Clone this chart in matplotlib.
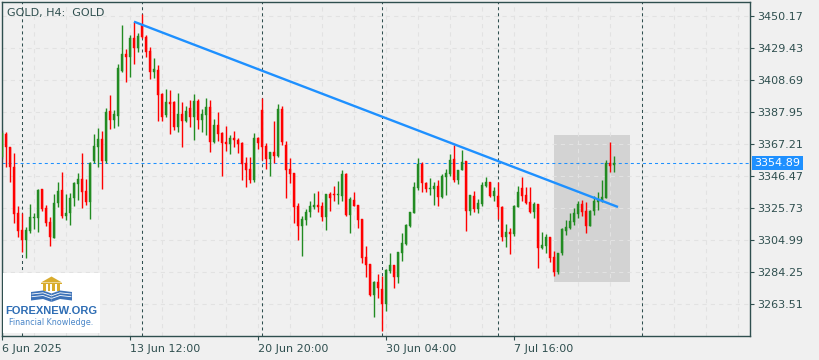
import matplotlib
matplotlib.use('Agg')
import matplotlib.pyplot as plt
from matplotlib.patches import Rectangle, Polygon

# GOLD H4 candles (one value per bar)
opens = [3358.6, 3373.5, 3364.9, 3352.3, 3322.1, 3311.3, 3304.8, 3310.9, 3319.3, 3319.3,
         3337.9, 3325.8, 3316.5, 3306.3, 3328.6, 3337.2, 3320.4, 3322.1, 3331.8, 3341.1,
         3344.1, 3336.6, 3329.7, 3356.2, 3365.3, 3370.3, 3356.2, 3388.4, 3382.8, 3385.4,
         3414.3, 3425.1, 3423.6, 3435.9, 3429.5, 3444.2, 3436.6, 3427.3, 3413.5, 3415.0,
         3399.4, 3385.8, 3394.0, 3394.0, 3378.3, 3386.4, 3381.9, 3390.2, 3384.7, 3394.9,
         3382.8, 3385.8, 3391.2, 3368.5, 3379.3, 3374.4, 3368.5, 3367.0, 3370.7, 3369.6,
         3367.9, 3354.5, 3350.8, 3343.7, 3370.7, 3389.1, 3365.7, 3357.3, 3362.1, 3359.3,
         3389.7, 3366.4, 3350.8, 3348.4, 3326.8, 3314.1, 3317.8, 3323.2, 3326.4, 3327.5,
         3326.8, 3319.9, 3334.6, 3334.0, 3333.8, 3333.3, 3347.6, 3321.0, 3330.7, 3327.5,
         3318.4, 3293.6, 3289.2, 3269.2, 3277.4, 3273.1, 3263.3, 3284.7, 3288.6, 3281.0,
         3296.6, 3302.2, 3313.9, 3322.5, 3338.3, 3354.1, 3341.5, 3337.6, 3337.9, 3339.8,
         3332.9, 3345.9, 3347.6, 3357.1, 3343.7, 3350.2, 3356.0, 3323.8, 3333.3, 3324.9,
         3328.1, 3339.8, 3342.6, 3333.5, 3333.5, 3326.4, 3306.5, 3310.2, 3308.7, 3326.4,
         3338.3, 3334.0, 3329.2, 3323.2, 3328.1, 3299.9, 3301.1, 3306.5, 3294.0, 3284.3,
         3296.2, 3310.9, 3312.4, 3316.7, 3321.7, 3328.1, 3323.6, 3314.1, 3323.6, 3329.7,
         3330.3, 3331.8, 3354.5, 3353.4]
highs = [3376.0, 3375.0, 3365.0, 3361.0, 3326.9, 3322.5, 3313.0, 3328.1, 3322.5, 3337.9,
         3337.9, 3327.5, 3319.9, 3334.6, 3342.6, 3349.1, 3334.6, 3335.1, 3342.6, 3348.4,
         3361.0, 3344.1, 3355.6, 3373.5, 3377.4, 3375.7, 3390.2, 3398.8, 3389.1, 3418.9,
         3444.2, 3428.6, 3437.7, 3446.3, 3439.0, 3451.3, 3437.7, 3430.1, 3422.5, 3418.2,
         3399.9, 3402.7, 3402.0, 3394.9, 3400.3, 3394.0, 3391.9, 3395.5, 3399.4, 3396.2,
         3389.4, 3396.6, 3395.5, 3383.0, 3387.5, 3375.0, 3378.7, 3372.9, 3375.4, 3370.7,
         3368.5, 3358.8, 3358.8, 3374.4, 3371.8, 3396.6, 3367.9, 3362.1, 3381.9, 3392.9,
         3391.6, 3369.2, 3358.2, 3348.4, 3328.6, 3320.5, 3324.9, 3330.1, 3335.5, 3336.6,
         3329.6, 3334.6, 3335.7, 3339.8, 3343.0, 3350.2, 3348.4, 3332.9, 3336.1, 3327.5,
         3318.4, 3300.9, 3289.2, 3278.3, 3282.8, 3281.5, 3286.0, 3296.2, 3288.6, 3297.2,
         3309.1, 3315.2, 3323.2, 3342.6, 3357.7, 3355.6, 3342.2, 3344.8, 3342.6, 3343.7,
         3347.4, 3350.8, 3360.3, 3366.4, 3350.2, 3363.1, 3356.0, 3334.0, 3336.8, 3331.2,
         3342.2, 3345.9, 3342.6, 3339.0, 3342.6, 3326.9, 3315.2, 3312.8, 3327.5, 3339.8,
         3345.9, 3339.4, 3339.4, 3329.7, 3328.1, 3310.0, 3308.7, 3306.5, 3297.9, 3296.6,
         3312.4, 3317.8, 3322.1, 3325.3, 3330.3, 3330.7, 3329.7, 3324.3, 3333.5, 3336.1,
         3343.7, 3356.7, 3368.1, 3359.3]
lows = [3357.0, 3352.4, 3342.6, 3315.6, 3306.5, 3297.3, 3292.9, 3309.2, 3311.7, 3310.2,
        3323.8, 3313.9, 3300.9, 3306.3, 3326.0, 3319.3, 3317.8, 3314.5, 3326.9, 3330.7,
        3325.3, 3327.5, 3318.4, 3354.5, 3352.3, 3337.9, 3354.5, 3376.8, 3377.6, 3378.9,
        3413.5, 3407.4, 3410.7, 3418.7, 3426.9, 3435.5, 3423.6, 3408.9, 3409.6, 3382.0,
        3382.0, 3384.7, 3373.3, 3376.1, 3374.6, 3365.3, 3381.1, 3378.3, 3369.6, 3376.8,
        3375.0, 3372.9, 3362.1, 3367.4, 3369.0, 3346.3, 3362.5, 3360.5, 3365.3, 3361.4,
        3343.7, 3339.4, 3341.5, 3342.6, 3363.8, 3356.7, 3350.8, 3346.3, 3354.9, 3358.4,
        3366.4, 3332.2, 3341.5, 3315.6, 3304.8, 3294.4, 3314.5, 3319.9, 3324.7, 3323.2,
        3317.1, 3311.3, 3323.8, 3330.3, 3328.1, 3330.3, 3320.4, 3309.6, 3327.1, 3312.8,
        3290.1, 3281.1, 3268.7, 3255.1, 3267.4, 3245.8, 3258.8, 3283.2, 3273.9, 3277.2,
        3291.2, 3301.6, 3313.5, 3322.1, 3337.2, 3336.1, 3335.7, 3334.0, 3327.5, 3326.8,
        3332.2, 3334.0, 3346.3, 3342.2, 3341.1, 3350.2, 3310.9, 3321.0, 3323.2, 3322.1,
        3327.1, 3339.0, 3332.9, 3330.3, 3318.2, 3304.4, 3300.1, 3295.8, 3307.4, 3326.0,
        3330.1, 3328.1, 3322.5, 3319.3, 3286.5, 3299.0, 3296.6, 3290.8, 3281.7, 3282.6,
        3295.1, 3308.1, 3311.7, 3314.5, 3318.9, 3320.4, 3309.6, 3314.1, 3321.0, 3324.3,
        3329.7, 3331.8, 3349.1, 3348.7]
closes = [3374.2, 3364.9, 3352.3, 3321.7, 3310.9, 3304.8, 3311.3, 3319.5, 3319.9, 3337.2,
          3324.7, 3316.1, 3306.5, 3328.6, 3336.6, 3320.4, 3322.1, 3332.0, 3342.0, 3344.1,
          3336.1, 3329.7, 3354.9, 3365.7, 3370.3, 3356.2, 3387.6, 3382.8, 3386.4, 3416.1,
          3425.1, 3423.6, 3435.9, 3429.5, 3437.0, 3436.2, 3426.9, 3413.5, 3415.6, 3398.8,
          3384.7, 3394.0, 3393.2, 3378.3, 3386.4, 3381.9, 3388.4, 3384.7, 3394.9, 3382.8,
          3386.4, 3391.2, 3368.1, 3379.3, 3373.5, 3367.9, 3367.0, 3370.7, 3369.6, 3367.0,
          3353.9, 3350.2, 3343.7, 3370.7, 3367.9, 3365.3, 3357.3, 3362.1, 3359.5, 3389.7,
          3368.1, 3350.2, 3347.6, 3326.4, 3314.1, 3318.3, 3323.2, 3326.8, 3327.5, 3326.0,
          3319.9, 3334.6, 3331.8, 3333.8, 3334.0, 3347.6, 3321.0, 3331.2, 3327.1, 3317.8,
          3293.4, 3288.6, 3269.2, 3277.8, 3273.9, 3263.3, 3285.4, 3288.6, 3281.0, 3297.2,
          3302.6, 3314.5, 3322.7, 3338.9, 3354.1, 3341.5, 3337.9, 3338.3, 3339.8, 3332.9,
          3346.3, 3348.5, 3356.7, 3343.7, 3350.2, 3355.6, 3323.8, 3334.0, 3324.7, 3329.0,
          3340.5, 3342.6, 3333.5, 3336.6, 3326.0, 3306.5, 3310.2, 3308.7, 3326.9, 3336.1,
          3333.3, 3329.0, 3323.2, 3328.1, 3299.9, 3301.6, 3307.0, 3293.4, 3284.3, 3296.6,
          3311.7, 3313.5, 3317.1, 3322.1, 3328.1, 3323.2, 3314.1, 3323.6, 3330.3, 3330.7,
          3332.9, 3354.9, 3353.0, 3354.89]

price_ticks = [3450.17, 3429.43, 3408.69, 3387.95, 3367.21,
               3346.47, 3325.73, 3304.99, 3284.25, 3263.51]
time_ticks = [0, 32, 64, 96, 128]
time_labels = ['6 Jun 2025', '13 Jun 12:00', '20 Jun 20:00', '30 Jun 04:00', '7 Jul 16:00']
week_starts = [5, 35, 65, 95, 124, 160]
trend_bars = [33, 154]
trend_prices = [3446.3, 3326.2]
box_bars = [138, 157]
box_prices = [3277.8, 3372.9]
last_price = 3354.89

BG = '#f0f0f0'
DARK = '#2f4f4f'
UP = '#228b22'
DOWN = '#ff0000'
BLUE = '#1e90ff'
FS = 8


def draw_logo(fig):
    lax = fig.add_axes([3 / 820, 27 / 360, 97 / 820, 60 / 360])
    lax.set_facecolor('white')
    lax.set_xlim(0, 97)
    lax.set_ylim(60, 0)
    lax.set_xticks([])
    lax.set_yticks([])
    for s in lax.spines.values():
        s.set_visible(False)
    gold = '#d9ac2e'
    # roof and pillars
    lax.add_patch(Polygon([(38, 9.5), (48.5, 3.5), (59, 9.5)], closed=True, fc=gold, ec='none'))
    lax.add_patch(Rectangle((38, 9.5), 21, 1.6, fc=gold, ec='none'))
    for px in [40.5, 45, 49.5, 54.5]:
        lax.add_patch(Rectangle((px, 11.1), 2.4, 7, fc=gold, ec='none'))
    # open book
    book = '#3d72b8'
    lax.add_patch(Polygon([(28, 19), (40, 17.5), (48.5, 20.5), (48.5, 29), (40, 26), (28, 27.5)],
                          closed=True, fc=book, ec='none'))
    lax.add_patch(Polygon([(69, 19), (57, 17.5), (48.5, 20.5), (48.5, 29), (57, 26), (69, 27.5)],
                          closed=True, fc=book, ec='none'))
    for yy in [21, 23.7]:
        lax.plot([29, 40, 48], [yy, yy - 1.2, yy + 1.6], color='white', lw=0.6)
        lax.plot([68, 57, 49], [yy, yy - 1.2, yy + 1.6], color='white', lw=0.6)
    lax.text(48.5, 37.5, 'FOREXNEW.ORG', ha='center', va='center', color='#2e6db4',
             fontsize=8, fontweight='bold', family='Liberation Sans')
    lax.text(48.5, 49.5, 'Financial Knowledge.', ha='center', va='center', color='#4a86c8',
             fontsize=5.8, family='DejaVu Sans')


def GoldChart():
    fig = plt.figure(figsize=(8.2, 3.6), dpi=100, facecolor=BG)
    ax = fig.add_axes([2 / 820, 24 / 360, 748 / 820, 334 / 360])
    ax.set_facecolor(BG)
    ax.set_xlim(0, 187)
    ax.set_ylim(3242.6, 3459.05)

    # light grid
    for p in price_ticks:
        ax.axhline(p, color='#e2e2e2', lw=0.75, ls=(0, (4, 4)), zorder=1)
    for k in range(0, 188, 8):
        ax.axvline(k, color='#e2e2e2', lw=0.75, ls=(0, (4, 4)), zorder=1)

    # shaded box
    ax.add_patch(Rectangle((box_bars[0], box_prices[0]), box_bars[1] - box_bars[0],
                           box_prices[1] - box_prices[0], fc='#d3d3d3', ec='none', zorder=0.5))

    # week separators
    for k in week_starts:
        ax.axvline(k, color=DARK, lw=0.75, ls=(0, (2.9, 2.9)), zorder=1.5)

    ax.axhline(last_price, color=BLUE, lw=0.75, ls=(0, (2.9, 2.9)), zorder=1.6)

    n = len(opens)
    for i in range(n):
        o, h, l, c = opens[i], highs[i], lows[i], closes[i]
        col = UP if c >= o else DOWN
        ax.vlines(i, l, h, color=col, lw=1.0, zorder=2)
        bot = min(o, c)
        hgt = max(abs(c - o), 0.7)
        ax.bar(i, hgt, bottom=bot, width=0.72, color=col, edgecolor=col, linewidth=0.3,
               zorder=3)

    ax.plot(trend_bars, trend_prices, color=BLUE, lw=1.7, zorder=4, solid_capstyle='butt')

    for s in ax.spines.values():
        s.set_color(DARK)
        s.set_linewidth(1.0)

    ax.yaxis.tick_right()
    ax.set_yticks(price_ticks)
    ax.set_yticklabels(['%.2f' % p for p in price_ticks])
    ax.tick_params(axis='y', length=3, width=0.8, color=DARK, pad=2,
                   labelsize=FS, labelcolor=DARK, right=True, left=False)
    ax.set_xticks(time_ticks)
    ax.set_xticklabels(time_labels, ha='left')
    ax.tick_params(axis='x', length=3, width=0.8, color=DARK, pad=3,
                   labelsize=FS, labelcolor=DARK)

    ax.text(0.0065, 0.968, 'GOLD, H4:  GOLD', transform=ax.transAxes, ha='left', va='center',
            fontsize=FS, color=DARK)

    ax.text(1.006, last_price, '%.2f' % last_price, transform=ax.get_yaxis_transform(),
            ha='left', va='center', fontsize=FS, color='white', clip_on=False, zorder=10,
            bbox=dict(boxstyle='square,pad=0.2', fc=BLUE, ec='none'))

    draw_logo(fig)
    fig.savefig('out.png', dpi=100, facecolor=BG)


if __name__ == '__main__':
    GoldChart()
